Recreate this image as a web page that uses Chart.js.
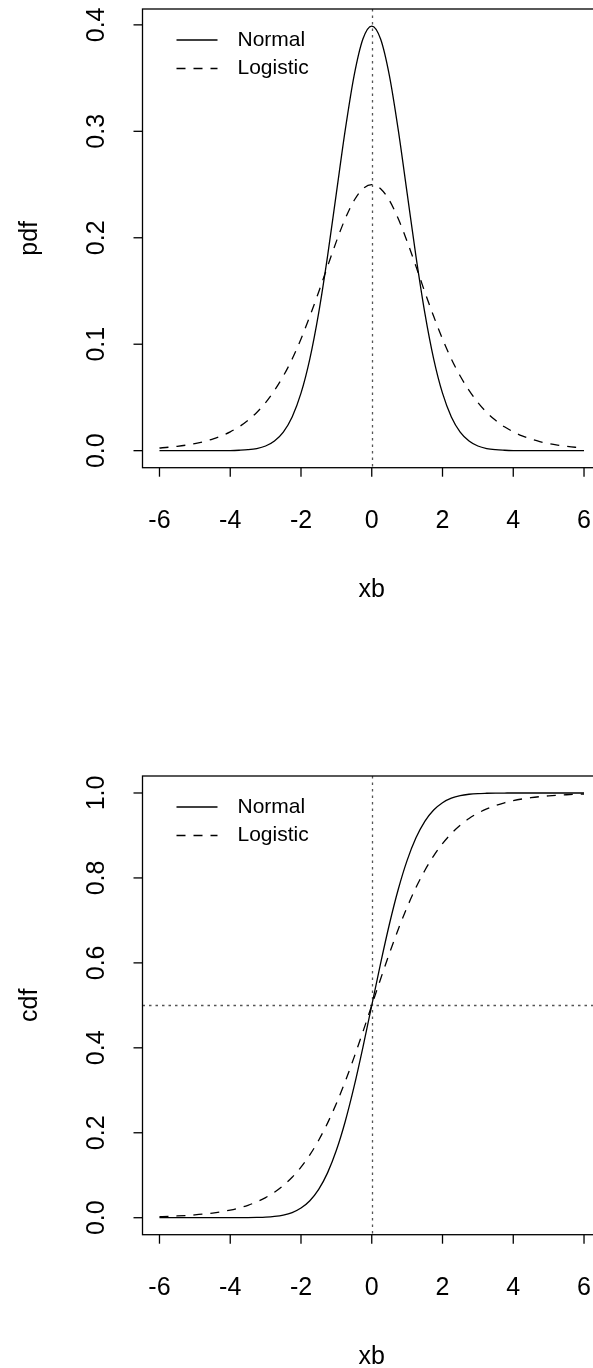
<!DOCTYPE html>
<html>
<head>
<meta charset="utf-8">
<script src="https://cdn.jsdelivr.net/npm/chart.js@4.4.1/dist/chart.umd.min.js"></script>
<style>
  html, body { margin:0; padding:0; background:#fff; overflow:hidden; width:593px; height:1368px; }
  .wrap { position:absolute; left:0; width:620px; }
  #top { top:0; height:767px; }
  #bot { top:767px; height:601px; }
</style>
</head>
<body>
<div class="wrap" id="top"><canvas id="pdfChart" width="620" height="767"></canvas></div>
<div class="wrap" id="bot"><canvas id="cdfChart" width="620" height="601"></canvas></div>
<script>
// x grid (step 0.25)
const xb = [-6, -5.75, -5.5, -5.25, -5, -4.75, -4.5, -4.25, -4, -3.75, -3.5, -3.25, -3, -2.75, -2.5, -2.25,
  -2, -1.75, -1.5, -1.25, -1, -0.75, -0.5, -0.25, 0, 0.25, 0.5, 0.75, 1, 1.25, 1.5, 1.75, 2, 2.25, 2.5, 2.75,
  3, 3.25, 3.5, 3.75, 4, 4.25, 4.5, 4.75, 5, 5.25, 5.5, 5.75, 6];

const normalPdf = [0, 0, 0, 0, 0, 0, 0, 0, 0.0001, 0.0004, 0.0009, 0.0020, 0.0044, 0.0091, 0.0175, 0.0317,
  0.0540, 0.0863, 0.1295, 0.1826, 0.2420, 0.3011, 0.3521, 0.3867, 0.3989, 0.3867, 0.3521, 0.3011, 0.2420,
  0.1826, 0.1295, 0.0863, 0.0540, 0.0317, 0.0175, 0.0091, 0.0044, 0.0020, 0.0009, 0.0004, 0.0001,
  0, 0, 0, 0, 0, 0, 0, 0];
const logisticPdf = [0.0025, 0.0032, 0.0041, 0.0052, 0.0066, 0.0085, 0.0109, 0.0139, 0.0177, 0.0224, 0.0285,
  0.0359, 0.0452, 0.0566, 0.0701, 0.0861, 0.1050, 0.1262, 0.1491, 0.1731, 0.1966, 0.2179, 0.2350, 0.2461,
  0.2500, 0.2461, 0.2350, 0.2179, 0.1966, 0.1731, 0.1491, 0.1262, 0.1050, 0.0861, 0.0701, 0.0566, 0.0452,
  0.0359, 0.0285, 0.0224, 0.0177, 0.0139, 0.0109, 0.0085, 0.0066, 0.0052, 0.0041, 0.0032, 0.0025];

const normalCdf = [0, 0, 0, 0, 0, 0, 0, 0, 0, 0.0001, 0.0002, 0.0006, 0.0013, 0.0030, 0.0062, 0.0122,
  0.0228, 0.0401, 0.0668, 0.1056, 0.1587, 0.2266, 0.3085, 0.4013, 0.5000, 0.5987, 0.6915, 0.7734, 0.8413,
  0.8944, 0.9332, 0.9599, 0.9772, 0.9878, 0.9938, 0.9970, 0.9987, 0.9994, 0.9998, 0.9999,
  1, 1, 1, 1, 1, 1, 1, 1, 1];
const logisticCdf = [0.0025, 0.0032, 0.0041, 0.0052, 0.0067, 0.0086, 0.0110, 0.0141, 0.0180, 0.0230, 0.0293,
  0.0373, 0.0474, 0.0601, 0.0759, 0.0953, 0.1192, 0.1480, 0.1824, 0.2227, 0.2689, 0.3208, 0.3775, 0.4378,
  0.5000, 0.5622, 0.6225, 0.6792, 0.7311, 0.7773, 0.8176, 0.8520, 0.8808, 0.9047, 0.9241, 0.9399, 0.9526,
  0.9627, 0.9707, 0.9770, 0.9820, 0.9859, 0.9890, 0.9914, 0.9933, 0.9948, 0.9959, 0.9968, 0.9975];

const xTicks = [-6, -4, -2, 0, 2, 4, 6];
const pdfTicks = [0, 0.1, 0.2, 0.3, 0.4];
const cdfTicks = [0, 0.2, 0.4, 0.6, 0.8, 1.0];
const pdfVLines = [0], pdfHLines = [];
const cdfVLines = [0], cdfHLines = [0.5];

const FONT = '"Liberation Sans", Arial, Helvetica, sans-serif';

function pts(ys) { return xb.map((x, i) => ({ x: x, y: ys[i] })); }

// R-style box, outward ticks, rotated y labels, legend without box
const rAxes = {
  id: 'rAxes',
  beforeDatasetsDraw(chart, args, o) {
    const { ctx, chartArea: a, scales: { x, y } } = chart;
    ctx.save();
    ctx.strokeStyle = '#555';
    ctx.lineWidth = 1.3;
    ctx.setLineDash([2.5, 4]);
    o.vLines.forEach(v => {
      const px = Math.round(x.getPixelForValue(v)) + 0.5;
      ctx.beginPath(); ctx.moveTo(px, a.top); ctx.lineTo(px, a.bottom); ctx.stroke();
    });
    o.hLines.forEach(v => {
      const py = Math.round(y.getPixelForValue(v)) + 0.5;
      ctx.beginPath(); ctx.moveTo(a.left, py); ctx.lineTo(a.right, py); ctx.stroke();
    });
    ctx.restore();
  },
  afterDraw(chart, args, o) {
    const { ctx, chartArea: a, scales: { x, y } } = chart;
    ctx.save();
    ctx.strokeStyle = '#000';
    ctx.fillStyle = '#000';
    ctx.lineWidth = 1.3;
    ctx.strokeRect(a.left, a.top, a.right - a.left, a.bottom - a.top);

    // x axis
    ctx.font = '25px ' + FONT;
    ctx.textAlign = 'center';
    ctx.textBaseline = 'alphabetic';
    o.xTicks.forEach(v => {
      const px = x.getPixelForValue(v);
      ctx.beginPath(); ctx.moveTo(px, a.bottom); ctx.lineTo(px, a.bottom + 9); ctx.stroke();
      ctx.fillText(String(v), px, a.bottom + 60.5);
    });
    ctx.fillText(o.xTitle, x.getPixelForValue(0), a.bottom + 129);

    // y axis
    o.yTicks.forEach(v => {
      const py = y.getPixelForValue(v);
      ctx.beginPath(); ctx.moveTo(a.left, py); ctx.lineTo(a.left - 9, py); ctx.stroke();
      ctx.save();
      ctx.translate(a.left - 38.5, py);
      ctx.rotate(-Math.PI / 2);
      ctx.fillText(v.toFixed(1), 0, 0);
      ctx.restore();
    });
    ctx.save();
    ctx.translate(a.left - 105.5, (a.top + a.bottom) / 2);
    ctx.rotate(-Math.PI / 2);
    ctx.fillText(o.yTitle, 0, 0);
    ctx.restore();

    // legend
    ctx.font = '21px ' + FONT;
    ctx.textAlign = 'left';
    ctx.textBaseline = 'middle';
    chart.data.datasets.forEach((ds, i) => {
      const ly = a.top + 31 + i * 28.5;
      ctx.save();
      ctx.lineWidth = ds.borderWidth;
      ctx.setLineDash(ds.borderDash || []);
      ctx.beginPath(); ctx.moveTo(a.left + 34, ly); ctx.lineTo(a.left + 75, ly); ctx.stroke();
      ctx.restore();
      ctx.fillText(ds.label, a.left + 95, ly);
    });
    ctx.restore();
  }
};

function makeChart(id, normal, logistic, yMin, yMax, opts, bottomPad) {
  return new Chart(document.getElementById(id), {
    type: 'line',
    data: {
      datasets: [
        { label: 'Normal', data: pts(normal), borderColor: '#000', borderWidth: 1.3,
          pointRadius: 0, cubicInterpolationMode: 'monotone', fill: false },
        { label: 'Logistic', data: pts(logistic), borderColor: '#000', borderWidth: 1.3,
          borderDash: [9, 8], pointRadius: 0, cubicInterpolationMode: 'monotone', fill: false }
      ]
    },
    options: {
      responsive: false,
      animation: false,
      devicePixelRatio: 1,
      layout: { padding: { left: 142.5, top: 9, right: 19, bottom: bottomPad } },
      plugins: { legend: { display: false }, tooltip: { enabled: false }, rAxes: opts },
      scales: {
        x: { type: 'linear', min: -6.48, max: 6.48, display: false },
        y: { type: 'linear', min: yMin, max: yMax, display: false }
      }
    },
    plugins: [rAxes]
  });
}

makeChart('pdfChart', normalPdf, logisticPdf, -0.016, 0.4149,
  { xTicks: xTicks, yTicks: pdfTicks, xTitle: 'xb', yTitle: 'pdf', vLines: pdfVLines, hLines: pdfHLines }, 299.3);
makeChart('cdfChart', normalCdf, logisticCdf, -0.04, 1.04,
  { xTicks: xTicks, yTicks: cdfTicks, xTitle: 'xb', yTitle: 'cdf', vLines: cdfVLines, hLines: cdfHLines }, 133.3);
</script>
</body>
</html>
